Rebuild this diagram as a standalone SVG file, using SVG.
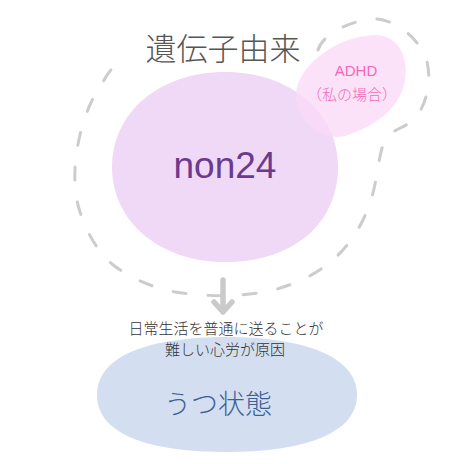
<svg xmlns="http://www.w3.org/2000/svg" width="464" height="464" viewBox="0 0 464 464">
<style>
.dash{fill:none;stroke:#cccccc;stroke-width:3;stroke-linecap:round;stroke-dasharray:13 22}
.jp{font-family:"Noto Sans CJK JP","Noto Sans",sans-serif}
.arrow{fill:none;stroke:#cacaca;stroke-width:5.5;stroke-linecap:round;stroke-linejoin:round}
</style>
<rect width="464" height="464" fill="#ffffff"/>
<g id="genetic-boundary">
<path class="dash" d="M318,50 C322,36 345,22 372,19 C395,18 418,38 426,58 C432,78 428,100 417,116 C408,128 392,128 385,140 C378,155 378,178 371,200 C364,222 352,242 336,257 C320,272 300,283 270,291 C240,297 205,297 175,292 C150,287 128,277 112,264 C96,250 84,228 78,205 C73,183 74,160 80,135 C85,112 95,93 103,82 C108,72 116,64 121,59"/>
<text class="jp" x="223" y="60" text-anchor="middle" font-size="31" font-weight="300" fill="#555555">遺伝子由来</text>
</g>
<g id="non24">
<path d="M225,72 C290,72 338,112 338,167 C338,222 295,262 225,262 C160,262 112,222 112,167 C112,112 160,72 225,72 Z" fill="#f0d9f6"/>
<text x="225" y="178" text-anchor="middle" font-family="Liberation Sans,Arial,sans-serif" font-size="37" fill="#6b3a8e">non24</text>
</g>
<g id="adhd">
<path d="M296,92 C300,62 340,36 375,35 C400,35 410,60 404,85 C398,108 378,125 345,136 C322,142 294,122 296,92 Z" fill="#fbd8f7" fill-opacity="0.75"/>
<text x="356" y="76" text-anchor="middle" font-family="Liberation Sans,Arial,sans-serif" font-size="15" fill="#f26ab5">ADHD</text>
<text class="jp" x="352" y="100" text-anchor="middle" font-size="15" font-weight="300" fill="#f26ab5">（私の場合）</text>
</g>
<g id="connectors">
<path class="arrow" d="M223,280 L223,312 M214,302 L223,312 L232,302"/>
</g>
<g id="utsu">
<path d="M227,337 C300,337 357,355 357,395 C357,435 300,452 227,452 C150,452 97,435 97,395 C97,355 150,337 227,337 Z" fill="#d3dff0"/>
<text class="jp" x="226" y="334" text-anchor="middle" font-size="15" font-weight="300" fill="#333333">日常生活を普通に送ることが</text>
<text class="jp" x="225" y="355" text-anchor="middle" font-size="15" font-weight="300" fill="#333333">難しい心労が原因</text>
<text class="jp" x="218" y="414" text-anchor="middle" font-size="27" font-weight="300" fill="#3d5f96">うつ状態</text>
</g>
</svg>
